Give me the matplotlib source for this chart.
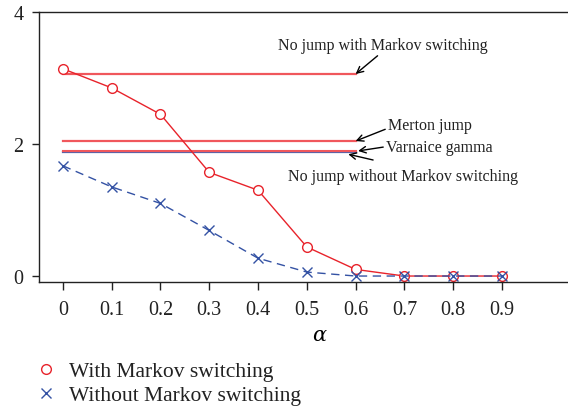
import matplotlib
matplotlib.use("Agg")
import matplotlib.pyplot as plt
from matplotlib.lines import Line2D

# alpha values on the x axis
alpha = [0, 0.1, 0.2, 0.3, 0.4, 0.5, 0.6, 0.7, 0.8, 0.9]
xtick_labels = ["0", "0.1", "0.2", "0.3", "0.4", "0.5", "0.6", "0.7", "0.8", "0.9"]

# series
with_markov = [3.14, 2.85, 2.45, 1.57, 1.30, 0.44, 0.10, 0.0, 0.0, 0.0]
without_markov = [1.67, 1.35, 1.10, 0.69, 0.27, 0.06, 0.0, 0.0, 0.0, 0.0]

# constant benchmark levels (drawn from alpha 0 to 0.6)
bench_span = [0, 0.6]
no_jump_with = 3.06
merton_jump = 2.045
varnaice_gamma = 1.895
no_jump_without = 1.875

red = "#e8232b"
red_light = "#f0575c"
blue = "#3452a4"

plt.rcParams["font.family"] = ["Liberation Serif", "DejaVu Serif"]
plt.rcParams["mathtext.fontset"] = "dejavuserif"

fig = plt.figure(figsize=(5.68, 4.10), dpi=100)
ax = fig.add_axes([39 / 568, (410 - 283.3) / 410, 562 / 568, (283.3 - 13) / 410])

# benchmark lines
ax.plot(bench_span, [no_jump_with] * 2, color=red_light, lw=1.6)
ax.plot(bench_span, [merton_jump] * 2, color=red_light, lw=1.6)
ax.plot(bench_span, [no_jump_without] * 2, color="#5a62a8", lw=1.6)
ax.plot(bench_span, [varnaice_gamma] * 2, color=red_light, lw=1.5)

ax.plot(alpha, with_markov, color=red, lw=1.0, marker="o", ms=7,
        mfc="white", mec=red, mew=1.0)
ax.plot(alpha, without_markov, color=blue, lw=1.0, ls=(0, (6, 4)),
        marker="x", ms=6.5, mec=blue, mew=1.0)

ax.set_xlim(-0.049, 1.103)
ax.set_ylim(-0.095, 4.0)
ax.set_yticks([0, 2, 4])
ax.set_xticks(alpha)
ax.set_xticklabels(xtick_labels)
ax.tick_params(axis="both", direction="out", length=5, width=1.0,
               labelsize=14.5, pad=6, colors="#222222")
ax.tick_params(axis="x", length=6, pad=7)
for side in ["top", "bottom", "left", "right"]:
    ax.spines[side].set_linewidth(1.0)
    ax.spines[side].set_color("#222222")
ax.set_xlabel(r"$\alpha$", fontsize=15, labelpad=5)

arrow = dict(arrowstyle="->", color="black", lw=1.0, shrinkA=0, shrinkB=0)
tfs = 11.5
ax.annotate("No jump with Markov switching", xy=(0.6, no_jump_with),
            xytext=(383, 410 - 46), textcoords="figure pixels",
            ha="center", va="center", fontsize=tfs, color="#222222",
            arrowprops=dict(arrow, relpos=(0.49, 0.0)))
ax.annotate("Merton jump", xy=(0.6, merton_jump),
            xytext=(388, 410 - 126), textcoords="figure pixels",
            ha="left", va="center", fontsize=tfs, color="#222222",
            arrowprops=dict(arrow, relpos=(0.0, 0.3)))
ax.annotate("Varnaice gamma", xy=(0.605, varnaice_gamma),
            xytext=(386, 410 - 148), textcoords="figure pixels",
            ha="left", va="center", fontsize=tfs, color="#222222",
            arrowprops=dict(arrow, relpos=(-0.02, 0.5)))
ax.annotate("No jump without Markov switching", xy=(0.585, no_jump_without - 0.03),
            xytext=(403, 410 - 177), textcoords="figure pixels",
            ha="center", va="center", fontsize=tfs, color="#222222",
            arrowprops=dict(arrow, relpos=(0.37, 1.5)))

handles = [
    Line2D([], [], ls="none", marker="o", ms=7, mfc="white", mec=red, mew=1.0),
    Line2D([], [], ls="none", marker="x", ms=6.5, mec=blue, mew=1.0),
]
fig.legend(handles, ["With Markov switching", "Without Markov switching"],
           loc="upper left", bbox_to_anchor=(35 / 568, 1 - 362 / 410),
           frameon=False, fontsize=15.5, handlelength=1.0, handletextpad=0.6,
           labelspacing=0.2, borderpad=0, borderaxespad=0, labelcolor="#222222")

fig.savefig("out.png", dpi=100)
